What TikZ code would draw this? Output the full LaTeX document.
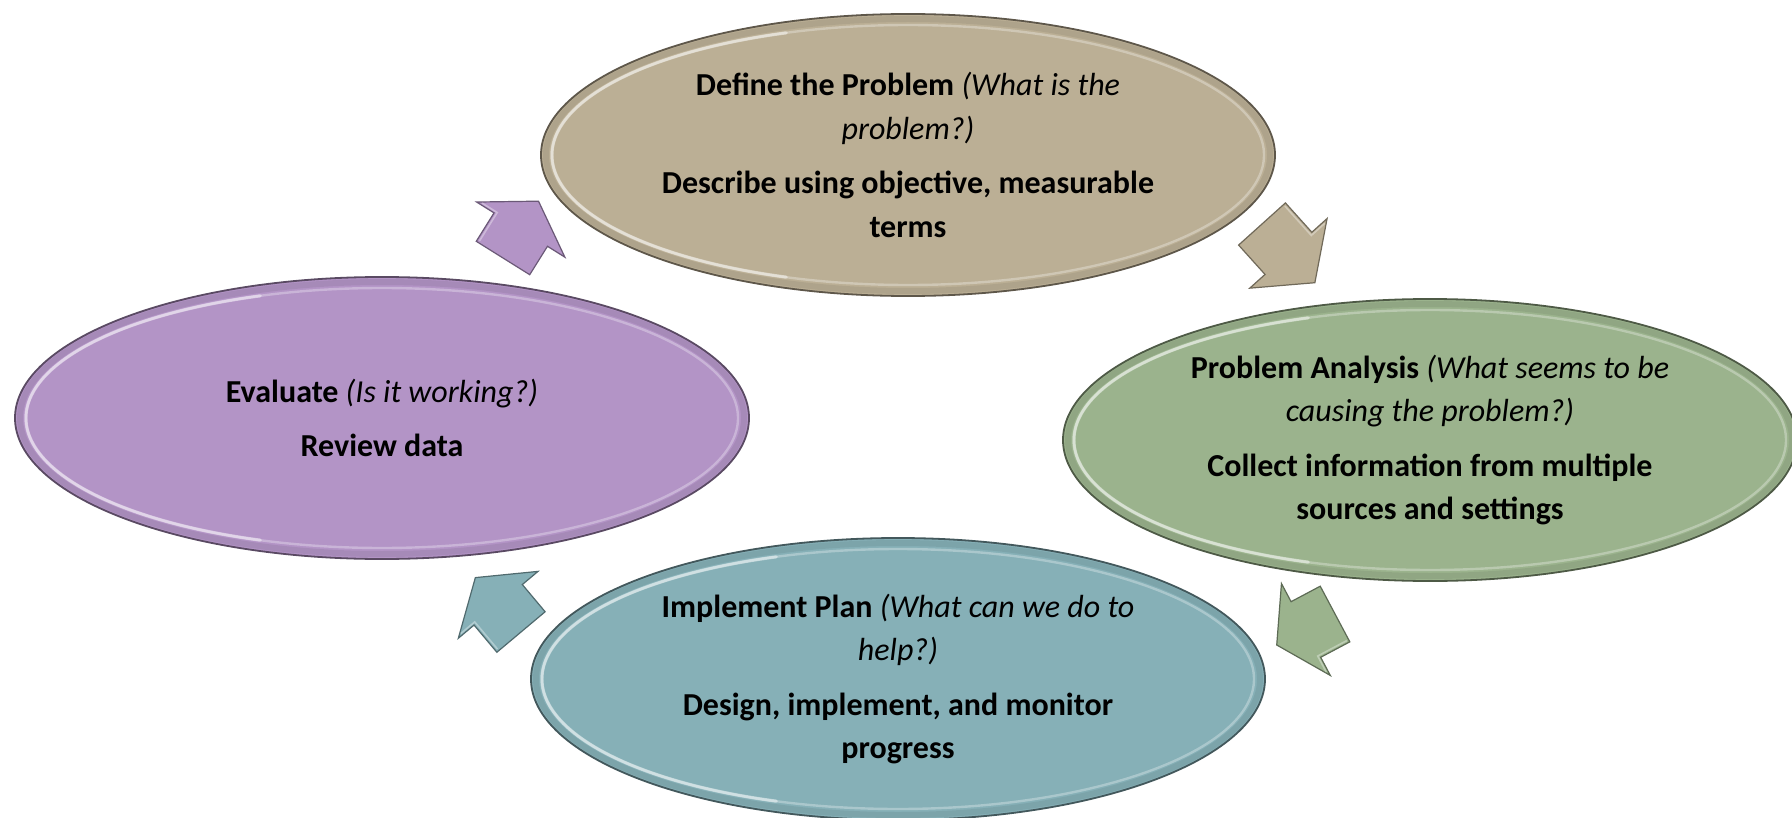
\documentclass[tikz,border=0pt]{standalone}
\usepackage{fontspec}
\setmainfont{Carlito}
\usetikzlibrary{shapes.geometric}
\definecolor{tanc}{RGB}{187,175,149}
\definecolor{greenc}{RGB}{155,179,141}
\definecolor{tealc}{RGB}{134,176,183}
\definecolor{purplec}{RGB}{179,148,198}
\tikzset{
  bubble/.style={ellipse, minimum width=367pt, minimum height=141pt, inner sep=0pt,
    line width=0.9pt, align=center, text=black,
    font=\fontsize{16}{21.7}\selectfont},
  ring/.style={line width=1.2pt, opacity=0.3},
  arrowshape/.style={line width=0.6pt}
}
\newcommand{\cycarrow}[5]{%
  \coordinate (#1) at #2;
  \begin{scope}[shift={(#1)}, rotate=#3]
    \pgfmathsetmacro\halfL{#4/2}
    \filldraw[arrowshape, fill=#5, draw=#5!60!black]
      (0,-31.5) -- (\halfL,-31.5) -- (\halfL,-52) -- (#4,0) -- (\halfL,52)
      -- (\halfL,31.5) -- (0,31.5) -- cycle;
    \draw[line width=0.8pt, white, opacity=0.35]
      (2,-29) -- (\halfL+2,-29) -- (\halfL+2,-47);
  \end{scope}}
\newcommand{\bevel}[2]{%
  \draw[#2!85!black, line width=3pt, opacity=0.45] (#1.center) ellipse [x radius=362, y radius=136];
  \draw[ring, white] (#1.center) ellipse [x radius=356, y radius=130];
  \draw[white, line width=1.6pt, opacity=0.45, line cap=round]
    ([shift={(110:356 and -130)}]#1.center) arc[start angle=110, end angle=250, x radius=356, y radius=-130];
  \draw[#2!50!black, line width=0.9pt] (#1.center) ellipse [x radius=367, y radius=141];}
\begin{document}
\begin{tikzpicture}[x=0.5pt,y=-0.5pt]
\useasboundingbox (0,0) rectangle (1792,818);
\fill[white] (0,0) rectangle (1792,818);

% cycle arrows
\cycarrow{a1}{(503,258)}{58}{67}{purplec}
\cycarrow{a2}{(1262,224)}{-48}{79}{tanc}
\cycarrow{a3}{(1335,614)}{-152}{66}{greenc}
\cycarrow{a4}{(521,632)}{130}{71}{tealc}

% ellipses
\node[bubble, fill=tanc] (define) at (908,155)
  {\textbf{Define the Problem} \textit{(What is the}\\
   \textit{problem?)}\\[5.7pt]
   \textbf{Describe using objective, measurable}\\
   \textbf{terms}};
\bevel{define}{tanc}

\node[bubble, fill=greenc] (analysis) at (1430,440)
  {\textbf{Problem Analysis} \textit{(What seems to be}\\
   \textit{causing the problem?)}\\[5.7pt]
   \textbf{Collect information from multiple}\\
   \textbf{sources and settings}};
\bevel{analysis}{greenc}

\node[bubble, fill=tealc] (implement) at (898,679)
  {\textbf{Implement Plan} \textit{(What can we do to}\\
   \textit{help?)}\\[5.7pt]
   \textbf{Design, implement, and monitor}\\
   \textbf{progress}};
\bevel{implement}{tealc}

\node[bubble, fill=purplec] (evaluate) at (382,418)
  {\textbf{Evaluate} \textit{(Is it working?)}\\[5.7pt]
   \textbf{Review data}};
\bevel{evaluate}{purplec}
\end{tikzpicture}
\end{document}
